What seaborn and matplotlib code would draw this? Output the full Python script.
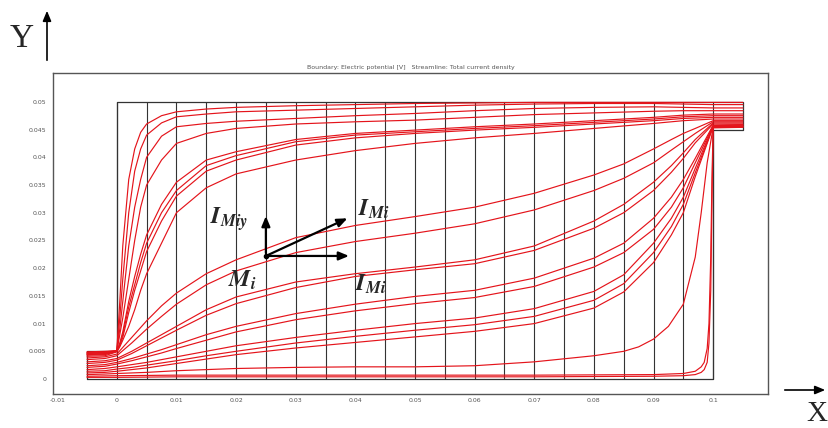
import numpy as np
import pandas as pd
import matplotlib
matplotlib.use("Agg")
import matplotlib.pyplot as plt
import seaborn as sns

# ---------------- data ----------------
title_text = "Boundary: Electric potential [V]   Streamline: Total current density"
x_ticks = [-0.01, 0, 0.01, 0.02, 0.03, 0.04, 0.05, 0.06, 0.07, 0.08, 0.09, 0.1]
x_tick_labels = ["-0.01", "0", "0.01", "0.02", "0.03", "0.04", "0.05",
                 "0.06", "0.07", "0.08", "0.09", "0.1"]
y_ticks = [0, 0.005, 0.01, 0.015, 0.02, 0.025, 0.03, 0.035, 0.04, 0.045, 0.05]
y_tick_labels = ["0", "0.005", "0.01", "0.015", "0.02", "0.025", "0.03",
                 "0.035", "0.04", "0.045", "0.05"]

# geometry (domain outline)
outline_x = [-0.005, -0.005, 0.0, 0.0, 0.105, 0.105, 0.1, 0.1, -0.005]
outline_y = [0.0, 0.005, 0.005, 0.05, 0.05, 0.045, 0.045, 0.0, 0.0]
grid_x = [0.0, 0.005, 0.01, 0.015, 0.02, 0.025, 0.03, 0.035, 0.04, 0.045, 0.05,
          0.055, 0.06, 0.065, 0.07, 0.075, 0.08, 0.085, 0.09, 0.095, 0.1]

# upper streamlines (turn up at inlet corner)
upper_x = [-0.005, -0.002, 0.0, 0.0005, 0.001, 0.002, 0.003, 0.004, 0.005, 0.0075,
           0.01, 0.015, 0.02, 0.03, 0.04, 0.05, 0.06, 0.07, 0.08, 0.09, 0.095, 0.1, 0.105]
upper_y = [
    [0.0049, 0.0050, 0.0051, 0.014, 0.024, 0.036, 0.0415, 0.0445, 0.046, 0.0475,
     0.0482, 0.0487, 0.0490, 0.0493, 0.0495, 0.0497, 0.0498, 0.0499, 0.0499, 0.0499, 0.0499, 0.0499, 0.0499],
    [0.0048, 0.0049, 0.0051, 0.011, 0.018, 0.030, 0.0375, 0.0415, 0.044, 0.0462,
     0.0473, 0.0478, 0.0482, 0.0485, 0.0488, 0.0491, 0.0494, 0.0496, 0.0497, 0.0497, 0.0496, 0.0495, 0.0495],
    [0.0047, 0.0048, 0.0051, 0.009, 0.014, 0.024, 0.031, 0.036, 0.040, 0.0438,
     0.0455, 0.0461, 0.0465, 0.0470, 0.0475, 0.0479, 0.0484, 0.0488, 0.0490, 0.0491, 0.0490, 0.0489, 0.0489],
    [0.0046, 0.0047, 0.0051, 0.008, 0.011, 0.018, 0.025, 0.031, 0.035, 0.0395,
     0.0425, 0.0443, 0.0452, 0.0460, 0.0464, 0.0467, 0.0472, 0.0477, 0.0480, 0.0483, 0.0484, 0.0484, 0.0484],
    [0.0045, 0.0046, 0.0050, 0.0065, 0.0085, 0.014, 0.0185, 0.0225, 0.026, 0.0315,
     0.0355, 0.0395, 0.0410, 0.0432, 0.0443, 0.0449, 0.0455, 0.0460, 0.0466, 0.0472, 0.0476, 0.0478, 0.0478],
    [0.0044, 0.0045, 0.0050, 0.0062, 0.0080, 0.013, 0.0170, 0.0210, 0.0245, 0.0300,
     0.0340, 0.0385, 0.0403, 0.0428, 0.0440, 0.0446, 0.0452, 0.0457, 0.0463, 0.0469, 0.0473, 0.0475, 0.0475],
    [0.0043, 0.0044, 0.0050, 0.0060, 0.0075, 0.012, 0.0160, 0.0195, 0.0230, 0.0285,
     0.0330, 0.0375, 0.0395, 0.0422, 0.0435, 0.0443, 0.0449, 0.0454, 0.0460, 0.0466, 0.0470, 0.0472, 0.0472],
    [0.0041, 0.0042, 0.0049, 0.0058, 0.0070, 0.0095, 0.0125, 0.0160, 0.0190, 0.0245,
     0.0300, 0.0345, 0.0370, 0.0395, 0.0412, 0.0425, 0.0435, 0.0443, 0.0452, 0.0461, 0.0466, 0.0469, 0.0469],
]

# middle and lower streamlines
lower_x = [-0.005, -0.002, 0.0, 0.0025, 0.005, 0.0075, 0.01, 0.015, 0.02, 0.03, 0.04,
           0.05, 0.06, 0.07, 0.08, 0.085, 0.09, 0.093, 0.095, 0.097, 0.1, 0.105]
lower_y = [
    [0.0038, 0.0040, 0.0045, 0.0075, 0.0105, 0.0132, 0.0155, 0.0190, 0.0215, 0.0255, 0.0277,
     0.0293, 0.0310, 0.0335, 0.0368, 0.0388, 0.0415, 0.0432, 0.0443, 0.0452, 0.0466, 0.0466],
    [0.0035, 0.0037, 0.0042, 0.0065, 0.0090, 0.0113, 0.0135, 0.0170, 0.0195, 0.0228, 0.0248,
     0.0263, 0.0280, 0.0305, 0.0340, 0.0362, 0.0390, 0.0413, 0.0428, 0.0443, 0.0464, 0.0464],
    [0.0031, 0.0033, 0.0037, 0.0050, 0.0065, 0.0080, 0.0095, 0.0125, 0.0148, 0.0175, 0.0190,
     0.0202, 0.0215, 0.0240, 0.0285, 0.0315, 0.0355, 0.0385, 0.0408, 0.0432, 0.0462, 0.0462],
    [0.0028, 0.0030, 0.0034, 0.0046, 0.0060, 0.0074, 0.0088, 0.0115, 0.0136, 0.0165, 0.0185,
     0.0197, 0.0208, 0.0232, 0.0272, 0.0300, 0.0340, 0.0373, 0.0398, 0.0426, 0.0460, 0.0460],
    [0.0024, 0.0026, 0.0030, 0.0037, 0.0045, 0.0053, 0.0062, 0.0080, 0.0095, 0.0118, 0.0135,
     0.0149, 0.0160, 0.0182, 0.0218, 0.0245, 0.0290, 0.0328, 0.0360, 0.0398, 0.0458, 0.0459],
    [0.0021, 0.0023, 0.0027, 0.0033, 0.0040, 0.0047, 0.0055, 0.0070, 0.0085, 0.0107, 0.0123,
     0.0136, 0.0147, 0.0167, 0.0202, 0.0228, 0.0270, 0.0310, 0.0345, 0.0390, 0.0457, 0.0458],
    [0.0017, 0.0019, 0.0022, 0.0026, 0.0030, 0.0035, 0.0040, 0.0050, 0.0060, 0.0075, 0.0088,
     0.0100, 0.0110, 0.0127, 0.0158, 0.0188, 0.0245, 0.0290, 0.0328, 0.0380, 0.0456, 0.0457],
    [0.0014, 0.0015, 0.0018, 0.0021, 0.0025, 0.0029, 0.0033, 0.0042, 0.0050, 0.0065, 0.0077,
     0.0088, 0.0098, 0.0113, 0.0142, 0.0172, 0.0228, 0.0275, 0.0315, 0.0372, 0.0455, 0.0456],
    [0.0011, 0.0012, 0.0014, 0.0017, 0.0020, 0.0024, 0.0028, 0.0036, 0.0044, 0.0056, 0.0066,
     0.0076, 0.0086, 0.0100, 0.0128, 0.0157, 0.0210, 0.0260, 0.0300, 0.0365, 0.0455, 0.0455],
]

# near-bottom streamline rising late
late_x = [-0.005, -0.002, 0.0, 0.005, 0.01, 0.02, 0.03, 0.04, 0.05, 0.06, 0.07, 0.08,
          0.085, 0.0875, 0.09, 0.0925, 0.095, 0.097, 0.098, 0.099, 0.1, 0.105]
late_y = [0.0008, 0.0009, 0.0010, 0.0012, 0.0015, 0.0019, 0.0021, 0.0022, 0.0022, 0.0024,
          0.0031, 0.0042, 0.0050, 0.0058, 0.0072, 0.0095, 0.0135, 0.0220, 0.0300, 0.0390,
          0.0454, 0.0455]

# bottom streamlines hugging the wall
bottom_x = [-0.005, 0.0, 0.01, 0.03, 0.05, 0.07, 0.09, 0.095, 0.097, 0.098, 0.0985,
            0.099, 0.0993, 0.0996, 0.0998, 0.1, 0.105]
bottom_y = [
    [0.0005, 0.0006, 0.0007, 0.0007, 0.0007, 0.0007, 0.0008, 0.0010, 0.0014, 0.0022, 0.0030,
     0.0055, 0.0100, 0.0220, 0.0360, 0.0454, 0.0455],
    [0.0003, 0.0003, 0.0004, 0.0004, 0.0004, 0.0004, 0.0005, 0.0006, 0.0008, 0.0012, 0.0017,
     0.0030, 0.0065, 0.0160, 0.0320, 0.0453, 0.0454],
]

# annotation labels
label_Miy = r"$\mathbfit{I}_{\mathbfit{Miy}}$"
label_Mi = r"$\mathbfit{I}_{\mathbfit{Mi}}$"
label_M = r"$\mathbfit{M}_{\mathbfit{i}}$"

# ---------------- build long table ----------------
rows = []
cid = 0
for ys in upper_y:
    for xv, yv in zip(upper_x, ys):
        rows.append((cid, xv, yv))
    cid += 1
for ys in lower_y:
    for xv, yv in zip(lower_x, ys):
        rows.append((cid, xv, yv))
    cid += 1
for xv, yv in zip(late_x, late_y):
    rows.append((cid, xv, yv))
cid += 1
for ys in bottom_y:
    for xv, yv in zip(bottom_x, ys):
        rows.append((cid, xv, yv))
    cid += 1
df = pd.DataFrame(rows, columns=["curve", "x", "y"])

# ---------------- plot ----------------
sns.set_style("white")
plt.rcParams["mathtext.fontset"] = "stix"

W, H = 829, 428
fig = plt.figure(figsize=(W / 100, H / 100), dpi=100)
ax = fig.add_axes([53 / W, 1 - 394 / H, (768 - 53) / W, (394 - 73) / H])

# mesh-like vertical lines and outline
for gx in grid_x:
    ax.plot([gx, gx], [0, 0.05], color="#333333", lw=0.8, zorder=1)
ax.plot(outline_x, outline_y, color="#333333", lw=0.9, zorder=1)

sns.lineplot(data=df, x="x", y="y", units="curve", estimator=None, sort=False,
             color="#e4141b", lw=0.85, ax=ax, legend=False, zorder=2)

ax.set_xlim(-0.0107, 0.1092)
ax.set_ylim(-0.0027, 0.0552)
ax.set_xticks(x_ticks)
ax.set_xticklabels(x_tick_labels)
ax.set_yticks(y_ticks)
ax.set_yticklabels(y_tick_labels)
ax.tick_params(axis="both", length=0, labelsize=4.5, labelcolor="#555555")
ax.tick_params(axis="y", pad=5)
ax.tick_params(axis="x", pad=3)
ax.set_xlabel("")
ax.set_ylabel("")
for s in ax.spines.values():
    s.set_color("#555555")
    s.set_linewidth(1.0)
ax.set_title(title_text, fontsize=4.5, color="#555555", pad=3)

# vector annotation
ox, oy = 0.0250, 0.0222
ax.plot([ox], [oy], "o", color="black", ms=3, zorder=5)
akw = dict(arrowstyle="-|>,head_length=0.6,head_width=0.25", color="black", lw=1.6)
ax.annotate("", xy=(ox, 0.0299), xytext=(ox, oy), arrowprops=akw, zorder=5)
ax.annotate("", xy=(0.0394, oy), xytext=(ox, oy), arrowprops=akw, zorder=5)
ax.annotate("", xy=(0.0391, 0.0292), xytext=(ox, oy), arrowprops=akw, zorder=5)
ax.text(0.0156, 0.0281, label_Miy, fontsize=17, ha="left", va="baseline", zorder=6)
ax.text(0.0404, 0.0294, label_Mi, fontsize=17, ha="left", va="baseline", zorder=6)
ax.text(0.0186, 0.0166, label_M, fontsize=17, ha="left", va="baseline", zorder=6)
ax.text(0.0399, 0.0160, label_Mi, fontsize=17, ha="left", va="baseline", zorder=6)

# big axis arrows and letters in figure coordinates
fig.text(10 / W, 1 - 47 / H, "Y", fontsize=24, family="Liberation Serif",
         ha="left", va="baseline")
fig.patches.append(matplotlib.patches.FancyArrowPatch(
    (47 / W, 1 - 63 / H), (47 / W, 1 - 8 / H), transform=fig.transFigure,
    arrowstyle="-|>,head_length=6,head_width=2.5", color="black", lw=1.2))
fig.text(806 / W, 1 - 421 / H, "X", fontsize=21, family="Liberation Serif",
         ha="left", va="baseline")
fig.patches.append(matplotlib.patches.FancyArrowPatch(
    (782 / W, 1 - 390 / H), (828 / W, 1 - 390 / H), transform=fig.transFigure,
    arrowstyle="-|>,head_length=6,head_width=2.5", color="black", lw=1.2))

fig.savefig("out.png", dpi=100, facecolor="white")
